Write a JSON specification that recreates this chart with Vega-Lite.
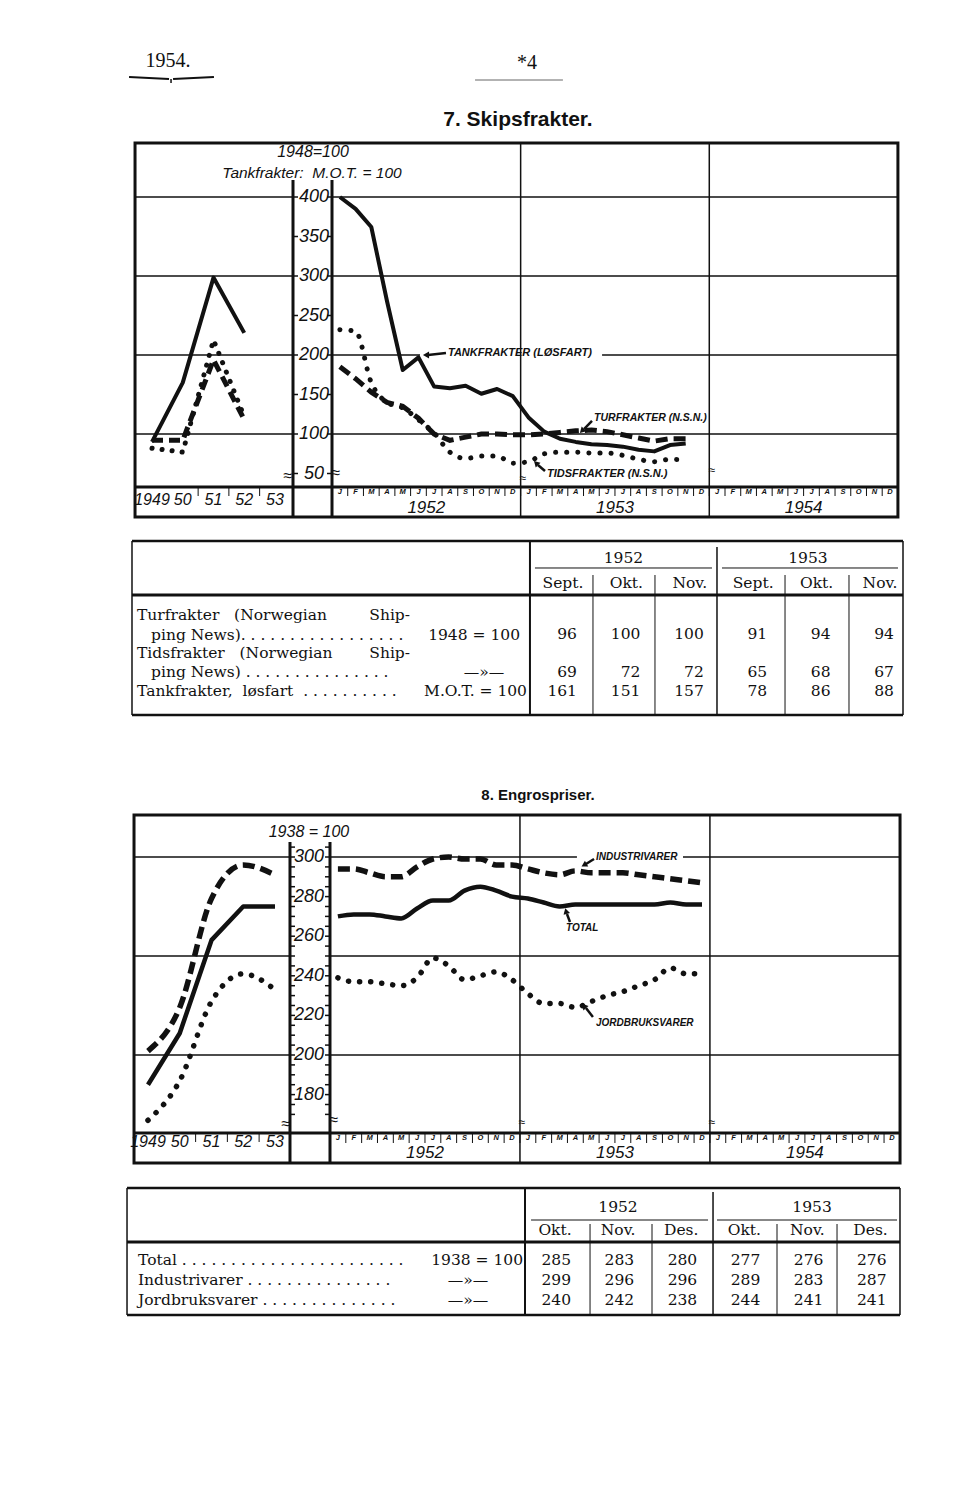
{
"$schema": "https://vega.github.io/schema/vega-lite/v6.json",
"padding": 0,
"spacing": 0,
"bounds": "flush",
"background": "white",
"data": {"values": [{}]},
"config": {"view": {"stroke": null}, "text": {"font": "Liberation Sans", "baseline": "middle", "color": "#111"}, "rule": {"color": "#111"}, "line": {"color": "#111"}, "point": {"color": "#111", "opacity": 1}},
"datasets": {
"ship": [
{"m":1,"tank":400,"tur":185,"tids":232},{"m":2,"tank":385,"tur":170,"tids":230},{"m":3,"tank":362,"tur":153,"tids":165},{"m":4,"tank":268,"tur":140,"tids":140},{"m":5,"tank":181,"tur":135,"tids":133},{"m":6,"tank":197,"tur":120,"tids":118},{"m":7,"tank":160,"tur":100,"tids":101},{"m":8,"tank":158,"tur":92,"tids":77},{"m":9,"tank":161,"tur":96,"tids":69},{"m":10,"tank":151,"tur":100,"tids":72},{"m":11,"tank":157,"tur":100,"tids":72},{"m":12,"tank":148,"tur":99,"tids":63},{"m":13,"tank":121,"tur":99,"tids":65},{"m":14,"tank":103,"tur":100,"tids":75},{"m":15,"tank":94,"tur":102,"tids":77},{"m":16,"tank":90,"tur":104,"tids":77},{"m":17,"tank":87,"tur":105,"tids":76},{"m":18,"tank":86,"tur":103,"tids":76},{"m":19,"tank":84,"tur":99,"tids":73},{"m":20,"tank":80,"tur":95,"tids":68},{"m":21,"tank":78,"tur":91,"tids":65},{"m":22,"tank":86,"tur":94,"tids":68},{"m":23,"tank":88,"tur":94,"tids":67}],
"shipA": [{"year":1949,"tank":90,"tur":92,"tids":82},{"year":1950,"tank":165,"tur":92,"tids":77},{"year":1951,"tank":298,"tur":194,"tids":219},{"year":1952,"tank":228,"tur":118,"tids":122}],
"prices": [
{"m":1,"total":270,"ind":294,"jord":239},{"m":2,"total":271,"ind":294,"jord":237},{"m":3,"total":271,"ind":292,"jord":237},{"m":4,"total":270,"ind":290,"jord":236},{"m":5,"total":269,"ind":290,"jord":235},{"m":6,"total":274,"ind":295,"jord":239},{"m":7,"total":278,"ind":299,"jord":249},{"m":8,"total":278,"ind":300,"jord":245},{"m":9,"total":283,"ind":299,"jord":238},{"m":10,"total":285,"ind":299,"jord":240},{"m":11,"total":283,"ind":296,"jord":242},{"m":12,"total":280,"ind":296,"jord":238},{"m":13,"total":279,"ind":294,"jord":231},{"m":14,"total":277,"ind":292,"jord":226},{"m":15,"total":275,"ind":291,"jord":226},{"m":16,"total":276,"ind":293,"jord":224},{"m":17,"total":276,"ind":292,"jord":227},{"m":18,"total":276,"ind":292,"jord":230},{"m":19,"total":276,"ind":292,"jord":232},{"m":20,"total":276,"ind":291,"jord":235},{"m":21,"total":276,"ind":290,"jord":238},{"m":22,"total":277,"ind":289,"jord":244},{"m":23,"total":276,"ind":288,"jord":241},{"m":24,"total":276,"ind":287,"jord":241}],
"pricesA": [{"year":1949,"total":185,"ind":202,"jord":167},{"year":1950,"total":211,"ind":224,"jord":187},{"year":1951,"total":258,"ind":279,"jord":227},{"year":1952,"total":275,"ind":296,"jord":241},{"year":1953,"total":275,"ind":291,"jord":233}],
"months": [{"m":1,"l":"J"},{"m":2,"l":"F"},{"m":3,"l":"M"},{"m":4,"l":"A"},{"m":5,"l":"M"},{"m":6,"l":"J"},{"m":7,"l":"J"},{"m":8,"l":"A"},{"m":9,"l":"S"},{"m":10,"l":"O"},{"m":11,"l":"N"},{"m":12,"l":"D"},{"m":13,"l":"J"},{"m":14,"l":"F"},{"m":15,"l":"M"},{"m":16,"l":"A"},{"m":17,"l":"M"},{"m":18,"l":"J"},{"m":19,"l":"J"},{"m":20,"l":"A"},{"m":21,"l":"S"},{"m":22,"l":"O"},{"m":23,"l":"N"},{"m":24,"l":"D"},{"m":25,"l":"J"},{"m":26,"l":"F"},{"m":27,"l":"M"},{"m":28,"l":"A"},{"m":29,"l":"M"},{"m":30,"l":"J"},{"m":31,"l":"J"},{"m":32,"l":"A"},{"m":33,"l":"S"},{"m":34,"l":"O"},{"m":35,"l":"N"},{"m":36,"l":"D"}],
"years": [{"m":6.5,"label":"1952"},{"m":18.5,"label":"1953"},{"m":30.5,"label":"1954"}],
"yearsA": [{"year":1949,"label":"1949"},{"year":1950,"label":"50"},{"year":1951,"label":"51"},{"year":1952,"label":"52"},{"year":1953,"label":"53"}],
"yearTicks": [{"year":1950.5},{"year":1951.5},{"year":1952.5}],
"t1": [
{"series":"Turfrakter","line":2,"col":1,"value":"96"},{"series":"Turfrakter","line":2,"col":2,"value":"100"},{"series":"Turfrakter","line":2,"col":3,"value":"100"},{"series":"Turfrakter","line":2,"col":4,"value":"91"},{"series":"Turfrakter","line":2,"col":5,"value":"94"},{"series":"Turfrakter","line":2,"col":6,"value":"94"},
{"series":"Tidsfrakter","line":4,"col":1,"value":"69"},{"series":"Tidsfrakter","line":4,"col":2,"value":"72"},{"series":"Tidsfrakter","line":4,"col":3,"value":"72"},{"series":"Tidsfrakter","line":4,"col":4,"value":"65"},{"series":"Tidsfrakter","line":4,"col":5,"value":"68"},{"series":"Tidsfrakter","line":4,"col":6,"value":"67"},
{"series":"Tankfrakter","line":5,"col":1,"value":"161"},{"series":"Tankfrakter","line":5,"col":2,"value":"151"},{"series":"Tankfrakter","line":5,"col":3,"value":"157"},{"series":"Tankfrakter","line":5,"col":4,"value":"78"},{"series":"Tankfrakter","line":5,"col":5,"value":"86"},{"series":"Tankfrakter","line":5,"col":6,"value":"88"}],
"t1head": [{"col":1,"t":"Sept."},{"col":2,"t":"Okt."},{"col":3,"t":"Nov."},{"col":4,"t":"Sept."},{"col":5,"t":"Okt."},{"col":6,"t":"Nov."}],
"t2": [
{"series":"Total","line":1,"col":1,"value":"285"},{"series":"Total","line":1,"col":2,"value":"283"},{"series":"Total","line":1,"col":3,"value":"280"},{"series":"Total","line":1,"col":4,"value":"277"},{"series":"Total","line":1,"col":5,"value":"276"},{"series":"Total","line":1,"col":6,"value":"276"},
{"series":"Industrivarer","line":2,"col":1,"value":"299"},{"series":"Industrivarer","line":2,"col":2,"value":"296"},{"series":"Industrivarer","line":2,"col":3,"value":"296"},{"series":"Industrivarer","line":2,"col":4,"value":"289"},{"series":"Industrivarer","line":2,"col":5,"value":"283"},{"series":"Industrivarer","line":2,"col":6,"value":"287"},
{"series":"Jordbruksvarer","line":3,"col":1,"value":"240"},{"series":"Jordbruksvarer","line":3,"col":2,"value":"242"},{"series":"Jordbruksvarer","line":3,"col":3,"value":"238"},{"series":"Jordbruksvarer","line":3,"col":4,"value":"244"},{"series":"Jordbruksvarer","line":3,"col":5,"value":"241"},{"series":"Jordbruksvarer","line":3,"col":6,"value":"241"}],
"t2head": [{"col":1,"t":"Okt."},{"col":2,"t":"Nov."},{"col":3,"t":"Des."},{"col":4,"t":"Okt."},{"col":5,"t":"Nov."},{"col":6,"t":"Des."}]
},
"vconcat": [
{
"width": 960, "height": 525,
"resolve": {"scale": {"x": "independent"}},
"layer": [
{"mark":{"type":"rect","fillOpacity":0,"stroke":"#111","strokeWidth":3},"encoding":{"x":{"datum":-12.03,"scale":{"domain":[-20.62,40.449],"nice":false,"zero":false},"axis":null},"x2":{"datum":36.5},"y":{"datum":468.35,"scale":{"domain":[-15.19,649.37],"nice":false,"zero":false},"axis":null},"y2":{"datum":-5.06}}},
{"data":{"values":[{"v":400},{"v":300},{"v":200},{"v":100}]},"mark":{"type":"rule","strokeWidth":1.3},"encoding":{"x":{"datum":-12.03,"scale":{"domain":[-20.62,40.449],"nice":false,"zero":false},"axis":null},"x2":{"datum":-1.98},"y":{"field":"v","type":"quantitative","scale":{"domain":[-15.19,649.37],"nice":false,"zero":false},"axis":null}}},
{"data":{"values":[{"v":400},{"v":300},{"v":100}]},"mark":{"type":"rule","strokeWidth":1.3},"encoding":{"x":{"datum":0.5,"scale":{"domain":[-20.62,40.449],"nice":false,"zero":false},"axis":null},"x2":{"datum":36.5},"y":{"field":"v","type":"quantitative","scale":{"domain":[-15.19,649.37],"nice":false,"zero":false},"axis":null}}},
{"mark":{"type":"rule","strokeWidth":1.3},"encoding":{"x":{"datum":0.5,"scale":{"domain":[-20.62,40.449],"nice":false,"zero":false},"axis":null},"x2":{"datum":6.1},"y":{"datum":200,"scale":{"domain":[-15.19,649.37],"nice":false,"zero":false},"axis":null}}},
{"mark":{"type":"rule","strokeWidth":1.3},"encoding":{"x":{"datum":17.68,"scale":{"domain":[-20.62,40.449],"nice":false,"zero":false},"axis":null},"x2":{"datum":36.5},"y":{"datum":200,"scale":{"domain":[-15.19,649.37],"nice":false,"zero":false},"axis":null}}},
{"mark":{"type":"rule","strokeWidth":3},"encoding":{"x":{"datum":-12.03,"scale":{"domain":[-20.62,40.449],"nice":false,"zero":false},"axis":null},"x2":{"datum":36.5},"y":{"datum":32.91,"scale":{"domain":[-15.19,649.37],"nice":false,"zero":false},"axis":null}}},
{"mark":{"type":"rule","strokeWidth":3},"encoding":{"x":{"datum":-1.981,"scale":{"domain":[-20.62,40.449],"nice":false,"zero":false},"axis":null},"y":{"datum":421.5,"scale":{"domain":[-15.19,649.37],"nice":false,"zero":false},"axis":null},"y2":{"datum":-5.06}}},
{"mark":{"type":"rule","strokeWidth":3},"encoding":{"x":{"datum":0.5,"scale":{"domain":[-20.62,40.449],"nice":false,"zero":false},"axis":null},"y":{"datum":421.5,"scale":{"domain":[-15.19,649.37],"nice":false,"zero":false},"axis":null},"y2":{"datum":-5.06}}},
{"data":{"values":[{"m":12.5},{"m":24.5}]},"mark":{"type":"rule","strokeWidth":1.5},"encoding":{"x":{"field":"m","type":"quantitative","scale":{"domain":[-20.62,40.449],"nice":false,"zero":false},"axis":null},"y":{"datum":468.35,"scale":{"domain":[-15.19,649.37],"nice":false,"zero":false},"axis":null},"y2":{"datum":-5.06}}},
{"data":{"values":[{"v":400},{"v":350},{"v":300},{"v":250},{"v":200},{"v":150},{"v":100},{"v":50}]},"mark":{"type":"text","fontSize":18,"fontStyle":"italic"},"encoding":{"x":{"datum":-0.645,"scale":{"domain":[-20.62,40.449],"nice":false,"zero":false},"axis":null},"y":{"field":"v","type":"quantitative","scale":{"domain":[-15.19,649.37],"nice":false,"zero":false},"axis":null},"text":{"field":"v","type":"nominal"}}},
{"data":{"values":[{"v":400},{"v":350},{"v":300},{"v":250},{"v":200},{"v":150},{"v":100},{"v":50}]},"mark":{"type":"rule","strokeWidth":1.5},"encoding":{"x":{"datum":-1.981,"scale":{"domain":[-20.62,40.449],"nice":false,"zero":false},"axis":null},"x2":{"datum":-1.663},"y":{"field":"v","type":"quantitative","scale":{"domain":[-15.19,649.37],"nice":false,"zero":false},"axis":null}}},
{"data":{"values":[{"v":400},{"v":350},{"v":300},{"v":250},{"v":200},{"v":150},{"v":100},{"v":50}]},"mark":{"type":"rule","strokeWidth":1.5},"encoding":{"x":{"datum":0.182,"scale":{"domain":[-20.62,40.449],"nice":false,"zero":false},"axis":null},"x2":{"datum":0.5},"y":{"field":"v","type":"quantitative","scale":{"domain":[-15.19,649.37],"nice":false,"zero":false},"axis":null}}},
{"mark":{"type":"text","fontSize":16},"encoding":{"x":{"datum":-2.3,"scale":{"domain":[-20.62,40.449],"nice":false,"zero":false},"axis":null},"y":{"datum":46.8,"scale":{"domain":[-15.19,649.37],"nice":false,"zero":false},"axis":null},"text":{"value":"≈"}}},
{"mark":{"type":"text","fontSize":16},"encoding":{"x":{"datum":0.75,"scale":{"domain":[-20.62,40.449],"nice":false,"zero":false},"axis":null},"y":{"datum":50.6,"scale":{"domain":[-15.19,649.37],"nice":false,"zero":false},"axis":null},"text":{"value":"≈"}}},
{"mark":{"type":"text","fontSize":12},"encoding":{"x":{"datum":12.65,"scale":{"domain":[-20.62,40.449],"nice":false,"zero":false},"axis":null},"y":{"datum":44.3,"scale":{"domain":[-15.19,649.37],"nice":false,"zero":false},"axis":null},"text":{"value":"≈"}}},
{"mark":{"type":"text","fontSize":12},"encoding":{"x":{"datum":24.67,"scale":{"domain":[-20.62,40.449],"nice":false,"zero":false},"axis":null},"y":{"datum":54.4,"scale":{"domain":[-15.19,649.37],"nice":false,"zero":false},"axis":null},"text":{"value":"≈"}}},
{"data":{"name":"months"},"mark":{"type":"rule","strokeWidth":1,"xOffset":7.86},"encoding":{"x":{"field":"m","type":"quantitative","scale":{"domain":[-20.62,40.449],"nice":false,"zero":false},"axis":null},"y":{"datum":32.91,"scale":{"domain":[-15.19,649.37],"nice":false,"zero":false},"axis":null},"y2":{"datum":21.5}}},
{"data":{"name":"months"},"mark":{"type":"text","fontSize":7.5,"fontStyle":"italic","fontWeight":"bold"},"encoding":{"x":{"field":"m","type":"quantitative","scale":{"domain":[-20.62,40.449],"nice":false,"zero":false},"axis":null},"y":{"datum":26.6,"scale":{"domain":[-15.19,649.37],"nice":false,"zero":false},"axis":null},"text":{"field":"l"}}},
{"data":{"name":"years"},"mark":{"type":"text","fontSize":17,"fontStyle":"italic"},"encoding":{"x":{"field":"m","type":"quantitative","scale":{"domain":[-20.62,40.449],"nice":false,"zero":false},"axis":null},"y":{"datum":6.3,"scale":{"domain":[-15.19,649.37],"nice":false,"zero":false},"axis":null},"text":{"field":"label"}}},
{"data":{"name":"yearsA"},"mark":{"type":"text","fontSize":16,"fontStyle":"italic"},"encoding":{"x":{"field":"year","type":"quantitative","scale":{"domain":[1944.057,1975.276],"nice":false,"zero":false},"axis":null},"y":{"datum":16.5,"scale":{"domain":[-15.19,649.37],"nice":false,"zero":false},"axis":null},"text":{"field":"label"}}},
{"data":{"name":"yearTicks"},"mark":{"type":"rule","strokeWidth":1},"encoding":{"x":{"field":"year","type":"quantitative","scale":{"domain":[1944.057,1975.276],"nice":false,"zero":false},"axis":null},"y":{"datum":32.91,"scale":{"domain":[-15.19,649.37],"nice":false,"zero":false},"axis":null},"y2":{"datum":21.5}}},
{"data":{"name":"shipA"},"mark":{"type":"line","strokeWidth":4,"strokeJoin":"round"},"encoding":{"x":{"field":"year","type":"quantitative","scale":{"domain":[1944.057,1975.276],"nice":false,"zero":false},"axis":null},"y":{"field":"tank","type":"quantitative","scale":{"domain":[-15.19,649.37],"nice":false,"zero":false},"axis":null}}},
{"data":{"name":"shipA"},"mark":{"type":"line","strokeWidth":5,"strokeDash":[11,6]},"encoding":{"x":{"field":"year","type":"quantitative","scale":{"domain":[1944.057,1975.276],"nice":false,"zero":false},"axis":null},"y":{"field":"tur","type":"quantitative","scale":{"domain":[-15.19,649.37],"nice":false,"zero":false},"axis":null}}},
{"data":{"name":"shipA"},"mark":{"type":"line","strokeWidth":5,"strokeDash":[0.1,10],"strokeCap":"round"},"encoding":{"x":{"field":"year","type":"quantitative","scale":{"domain":[1944.057,1975.276],"nice":false,"zero":false},"axis":null},"y":{"field":"tids","type":"quantitative","scale":{"domain":[-15.19,649.37],"nice":false,"zero":false},"axis":null}}},
{"data":{"name":"ship"},"mark":{"type":"line","strokeWidth":4,"strokeJoin":"round"},"encoding":{"x":{"field":"m","type":"quantitative","scale":{"domain":[-20.62,40.449],"nice":false,"zero":false},"axis":null},"y":{"field":"tank","type":"quantitative","scale":{"domain":[-15.19,649.37],"nice":false,"zero":false},"axis":null}}},
{"data":{"name":"ship"},"mark":{"type":"line","strokeWidth":5,"strokeDash":[12,6]},"encoding":{"x":{"field":"m","type":"quantitative","scale":{"domain":[-20.62,40.449],"nice":false,"zero":false},"axis":null},"y":{"field":"tur","type":"quantitative","scale":{"domain":[-15.19,649.37],"nice":false,"zero":false},"axis":null}}},
{"data":{"name":"ship"},"mark":{"type":"line","strokeWidth":5,"strokeDash":[0.1,11],"strokeCap":"round","interpolate":"monotone"},"encoding":{"x":{"field":"m","type":"quantitative","scale":{"domain":[-20.62,40.449],"nice":false,"zero":false},"axis":null},"y":{"field":"tids","type":"quantitative","scale":{"domain":[-15.19,649.37],"nice":false,"zero":false},"axis":null}}},
{"mark":{"type":"text","fontSize":11,"fontStyle":"italic","fontWeight":"bold","align":"left"},"encoding":{"x":{"datum":7.88,"scale":{"domain":[-20.62,40.449],"nice":false,"zero":false},"axis":null},"y":{"datum":202.5,"scale":{"domain":[-15.19,649.37],"nice":false,"zero":false},"axis":null},"text":{"value":"TANKFRAKTER (LØSFART)"}}},
{"mark":{"type":"rule","strokeWidth":2.5},"encoding":{"x":{"datum":7.75,"scale":{"domain":[-20.62,40.449],"nice":false,"zero":false},"axis":null},"x2":{"datum":6.61},"y":{"datum":202.5,"scale":{"domain":[-15.19,649.37],"nice":false,"zero":false},"axis":null},"y2":{"datum":200}}},
{"mark":{"type":"point","shape":"triangle-left","filled":true,"size":50},"encoding":{"x":{"datum":6.48,"scale":{"domain":[-20.62,40.449],"nice":false,"zero":false},"axis":null},"y":{"datum":200,"scale":{"domain":[-15.19,649.37],"nice":false,"zero":false},"axis":null}}},
{"mark":{"type":"text","fontSize":10.5,"fontStyle":"italic","fontWeight":"bold","align":"left"},"encoding":{"x":{"datum":17.17,"scale":{"domain":[-20.62,40.449],"nice":false,"zero":false},"axis":null},"y":{"datum":120.25,"scale":{"domain":[-15.19,649.37],"nice":false,"zero":false},"axis":null},"text":{"value":"TURFRAKTER (N.S.N.)"}}},
{"mark":{"type":"rule","strokeWidth":2.5},"encoding":{"x":{"datum":17.04,"scale":{"domain":[-20.62,40.449],"nice":false,"zero":false},"axis":null},"x2":{"datum":16.53},"y":{"datum":116.5,"scale":{"domain":[-15.19,649.37],"nice":false,"zero":false},"axis":null},"y2":{"datum":106.3}}},
{"mark":{"type":"point","shape":"triangle-up","filled":true,"size":45,"angle":225},"encoding":{"x":{"datum":16.4,"scale":{"domain":[-20.62,40.449],"nice":false,"zero":false},"axis":null},"y":{"datum":103.8,"scale":{"domain":[-15.19,649.37],"nice":false,"zero":false},"axis":null}}},
{"mark":{"type":"text","fontSize":11,"fontStyle":"italic","fontWeight":"bold","align":"left"},"encoding":{"x":{"datum":14.18,"scale":{"domain":[-20.62,40.449],"nice":false,"zero":false},"axis":null},"y":{"datum":49.4,"scale":{"domain":[-15.19,649.37],"nice":false,"zero":false},"axis":null},"text":{"value":"TIDSFRAKTER (N.S.N.)"}}},
{"mark":{"type":"rule","strokeWidth":2.5},"encoding":{"x":{"datum":14.05,"scale":{"domain":[-20.62,40.449],"nice":false,"zero":false},"axis":null},"x2":{"datum":13.6},"y":{"datum":53.2,"scale":{"domain":[-15.19,649.37],"nice":false,"zero":false},"axis":null},"y2":{"datum":60.8}}},
{"mark":{"type":"point","shape":"triangle-up","filled":true,"size":45,"angle":315},"encoding":{"x":{"datum":13.48,"scale":{"domain":[-20.62,40.449],"nice":false,"zero":false},"axis":null},"y":{"datum":63.3,"scale":{"domain":[-15.19,649.37],"nice":false,"zero":false},"axis":null}}},
{"mark":{"type":"text","fontSize":16,"fontStyle":"italic"},"encoding":{"x":{"datum":-0.709,"scale":{"domain":[-20.62,40.449],"nice":false,"zero":false},"axis":null},"y":{"datum":456.5,"scale":{"domain":[-15.19,649.37],"nice":false,"zero":false},"axis":null},"text":{"value":"1948=100"}}},
{"mark":{"type":"text","fontSize":15.5,"fontStyle":"italic"},"encoding":{"x":{"datum":-0.772,"scale":{"domain":[-20.62,40.449],"nice":false,"zero":false},"axis":null},"y":{"datum":430.3,"scale":{"domain":[-15.19,649.37],"nice":false,"zero":false},"axis":null},"text":{"value":"Tankfrakter:\u00a0\u00a0M.O.T. = 100"}}},
{"mark":{"type":"text","fontSize":20,"font":"Liberation Serif"},"encoding":{"x":{"datum":-9.93,"scale":{"domain":[-20.62,40.449],"nice":false,"zero":false},"axis":null},"y":{"datum":572.2,"scale":{"domain":[-15.19,649.37],"nice":false,"zero":false},"axis":null},"text":{"value":"1954."}}},
{"mark":{"type":"rule","strokeWidth":2},"encoding":{"x":{"datum":-12.41,"scale":{"domain":[-20.62,40.449],"nice":false,"zero":false},"axis":null},"x2":{"datum":-9.87},"y":{"datum":551.9,"scale":{"domain":[-15.19,649.37],"nice":false,"zero":false},"axis":null},"y2":{"datum":549.4}}},
{"mark":{"type":"rule","strokeWidth":2},"encoding":{"x":{"datum":-9.61,"scale":{"domain":[-20.62,40.449],"nice":false,"zero":false},"axis":null},"x2":{"datum":-7.01},"y":{"datum":549.4,"scale":{"domain":[-15.19,649.37],"nice":false,"zero":false},"axis":null},"y2":{"datum":551.9}}},
{"mark":{"type":"rule","strokeWidth":1.5},"encoding":{"x":{"datum":-9.74,"scale":{"domain":[-20.62,40.449],"nice":false,"zero":false},"axis":null},"y":{"datum":549.4,"scale":{"domain":[-15.19,649.37],"nice":false,"zero":false},"axis":null},"y2":{"datum":544.3}}},
{"mark":{"type":"text","fontSize":20,"font":"Liberation Serif"},"encoding":{"x":{"datum":12.9,"scale":{"domain":[-20.62,40.449],"nice":false,"zero":false},"axis":null},"y":{"datum":569.6,"scale":{"domain":[-15.19,649.37],"nice":false,"zero":false},"axis":null},"text":{"value":"*4"}}},
{"mark":{"type":"rule","strokeWidth":1,"color":"#666"},"encoding":{"x":{"datum":9.6,"scale":{"domain":[-20.62,40.449],"nice":false,"zero":false},"axis":null},"x2":{"datum":15.19},"y":{"datum":548.1,"scale":{"domain":[-15.19,649.37],"nice":false,"zero":false},"axis":null}}},
{"mark":{"type":"text","fontSize":21,"fontWeight":"bold"},"encoding":{"x":{"datum":12.33,"scale":{"domain":[-20.62,40.449],"nice":false,"zero":false},"axis":null},"y":{"datum":497.5,"scale":{"domain":[-15.19,649.37],"nice":false,"zero":false},"axis":null},"text":{"value":"7. Skipsfrakter."}}}
]
},
{
"width": 960, "height": 235,
"layer": [
{"mark":{"type":"rule","strokeWidth":2.5},"encoding":{"x":{"datum":-5.798,"scale":{"domain":[-7.88,7.262],"nice":false,"zero":false},"axis":null},"x2":{"datum":6.363},"y":{"datum":-2.895,"scale":{"domain":[-3.737,8.632],"nice":false,"zero":false,"reverse":true},"axis":null}}},
{"mark":{"type":"rule","strokeWidth":3},"encoding":{"x":{"datum":-5.798,"scale":{"domain":[-7.88,7.262],"nice":false,"zero":false},"axis":null},"x2":{"datum":6.363},"y":{"datum":-0.053,"scale":{"domain":[-3.737,8.632],"nice":false,"zero":false,"reverse":true},"axis":null}}},
{"mark":{"type":"rule","strokeWidth":2.5},"encoding":{"x":{"datum":-5.798,"scale":{"domain":[-7.88,7.262],"nice":false,"zero":false},"axis":null},"x2":{"datum":6.363},"y":{"datum":6.263,"scale":{"domain":[-3.737,8.632],"nice":false,"zero":false,"reverse":true},"axis":null}}},
{"mark":{"type":"rule","strokeWidth":1.5},"encoding":{"x":{"datum":-5.798,"scale":{"domain":[-7.88,7.262],"nice":false,"zero":false},"axis":null},"y":{"datum":-2.895,"scale":{"domain":[-3.737,8.632],"nice":false,"zero":false,"reverse":true},"axis":null},"y2":{"datum":6.263}}},
{"mark":{"type":"rule","strokeWidth":1.5},"encoding":{"x":{"datum":6.363,"scale":{"domain":[-7.88,7.262],"nice":false,"zero":false},"axis":null},"y":{"datum":-2.895,"scale":{"domain":[-3.737,8.632],"nice":false,"zero":false,"reverse":true},"axis":null},"y2":{"datum":6.263}}},
{"mark":{"type":"rule","strokeWidth":2},"encoding":{"x":{"datum":0.479,"scale":{"domain":[-7.88,7.262],"nice":false,"zero":false},"axis":null},"y":{"datum":-2.895,"scale":{"domain":[-3.737,8.632],"nice":false,"zero":false,"reverse":true},"axis":null},"y2":{"datum":6.263}}},
{"mark":{"type":"rule","strokeWidth":1.5},"encoding":{"x":{"datum":3.429,"scale":{"domain":[-7.88,7.262],"nice":false,"zero":false},"axis":null},"y":{"datum":-2.579,"scale":{"domain":[-3.737,8.632],"nice":false,"zero":false,"reverse":true},"axis":null},"y2":{"datum":6.263}}},
{"data":{"values":[{"c":1.473},{"c":2.451},{"c":4.502},{"c":5.511}]},"mark":{"type":"rule","strokeWidth":1},"encoding":{"x":{"field":"c","type":"quantitative","scale":{"domain":[-7.88,7.262],"nice":false,"zero":false},"axis":null},"y":{"datum":-1.105,"scale":{"domain":[-3.737,8.632],"nice":false,"zero":false,"reverse":true},"axis":null},"y2":{"datum":6.263}}},
{"mark":{"type":"rule","strokeWidth":1},"encoding":{"x":{"datum":0.558,"scale":{"domain":[-7.88,7.262],"nice":false,"zero":false},"axis":null},"x2":{"datum":3.35},"y":{"datum":-1.474,"scale":{"domain":[-3.737,8.632],"nice":false,"zero":false,"reverse":true},"axis":null}}},
{"mark":{"type":"rule","strokeWidth":1},"encoding":{"x":{"datum":3.508,"scale":{"domain":[-7.88,7.262],"nice":false,"zero":false},"axis":null},"x2":{"datum":6.284},"y":{"datum":-1.474,"scale":{"domain":[-3.737,8.632],"nice":false,"zero":false,"reverse":true},"axis":null}}},
{"mark":{"type":"text","fontSize":15.5,"font":"DejaVu Serif"},"encoding":{"x":{"datum":1.954,"scale":{"domain":[-7.88,7.262],"nice":false,"zero":false},"axis":null},"y":{"datum":-2,"scale":{"domain":[-3.737,8.632],"nice":false,"zero":false,"reverse":true},"axis":null},"text":{"value":"1952"}}},
{"mark":{"type":"text","fontSize":15.5,"font":"DejaVu Serif"},"encoding":{"x":{"datum":4.864,"scale":{"domain":[-7.88,7.262],"nice":false,"zero":false},"axis":null},"y":{"datum":-2,"scale":{"domain":[-3.737,8.632],"nice":false,"zero":false,"reverse":true},"axis":null},"text":{"value":"1953"}}},
{"data":{"name":"t1head"},"mark":{"type":"text","fontSize":15.5,"font":"DejaVu Serif"},"encoding":{"x":{"field":"col","type":"quantitative","scale":{"domain":[-7.88,7.262],"nice":false,"zero":false},"axis":null},"y":{"datum":-0.684,"scale":{"domain":[-3.737,8.632],"nice":false,"zero":false,"reverse":true},"axis":null},"text":{"field":"t"}}},
{"data":{"name":"t1"},"mark":{"type":"text","fontSize":15.5,"font":"DejaVu Serif","align":"right","dx":14},"encoding":{"x":{"field":"col","type":"quantitative","scale":{"domain":[-7.88,7.262],"nice":false,"zero":false},"axis":null},"y":{"field":"line","type":"quantitative","scale":{"domain":[-3.737,8.632],"nice":false,"zero":false,"reverse":true},"axis":null},"text":{"field":"value"}}},
{"mark":{"type":"text","fontSize":15.5,"font":"DejaVu Serif","align":"left"},"encoding":{"x":{"datum":-5.719,"scale":{"domain":[-7.88,7.262],"nice":false,"zero":false},"axis":null},"y":{"datum":1,"scale":{"domain":[-3.737,8.632],"nice":false,"zero":false,"reverse":true},"axis":null},"text":{"value":"Turfrakter\u00a0\u00a0\u00a0(Norwegian"}}},
{"mark":{"type":"text","fontSize":15.5,"font":"DejaVu Serif","align":"right"},"encoding":{"x":{"datum":-1.413,"scale":{"domain":[-7.88,7.262],"nice":false,"zero":false},"axis":null},"y":{"datum":1,"scale":{"domain":[-3.737,8.632],"nice":false,"zero":false,"reverse":true},"axis":null},"text":{"value":"Ship-"}}},
{"mark":{"type":"text","fontSize":15.5,"font":"DejaVu Serif","align":"left"},"encoding":{"x":{"datum":-5.498,"scale":{"domain":[-7.88,7.262],"nice":false,"zero":false},"axis":null},"y":{"datum":2.05,"scale":{"domain":[-3.737,8.632],"nice":false,"zero":false,"reverse":true},"axis":null},"text":{"value":"ping News). . . . . . . . . . . . . . . . ."}}},
{"mark":{"type":"text","fontSize":15.5,"font":"DejaVu Serif","align":"right"},"encoding":{"x":{"datum":0.322,"scale":{"domain":[-7.88,7.262],"nice":false,"zero":false},"axis":null},"y":{"datum":2.05,"scale":{"domain":[-3.737,8.632],"nice":false,"zero":false,"reverse":true},"axis":null},"text":{"value":"1948 = 100"}}},
{"mark":{"type":"text","fontSize":15.5,"font":"DejaVu Serif","align":"left"},"encoding":{"x":{"datum":-5.719,"scale":{"domain":[-7.88,7.262],"nice":false,"zero":false},"axis":null},"y":{"datum":3,"scale":{"domain":[-3.737,8.632],"nice":false,"zero":false,"reverse":true},"axis":null},"text":{"value":"Tidsfrakter\u00a0\u00a0\u00a0(Norwegian"}}},
{"mark":{"type":"text","fontSize":15.5,"font":"DejaVu Serif","align":"right"},"encoding":{"x":{"datum":-1.413,"scale":{"domain":[-7.88,7.262],"nice":false,"zero":false},"axis":null},"y":{"datum":3,"scale":{"domain":[-3.737,8.632],"nice":false,"zero":false,"reverse":true},"axis":null},"text":{"value":"Ship-"}}},
{"mark":{"type":"text","fontSize":15.5,"font":"DejaVu Serif","align":"left"},"encoding":{"x":{"datum":-5.498,"scale":{"domain":[-7.88,7.262],"nice":false,"zero":false},"axis":null},"y":{"datum":4,"scale":{"domain":[-3.737,8.632],"nice":false,"zero":false,"reverse":true},"axis":null},"text":{"value":"ping News) . . . . . . . . . . . . . . ."}}},
{"mark":{"type":"text","fontSize":15.5,"font":"DejaVu Serif"},"encoding":{"x":{"datum":-0.246,"scale":{"domain":[-7.88,7.262],"nice":false,"zero":false},"axis":null},"y":{"datum":4,"scale":{"domain":[-3.737,8.632],"nice":false,"zero":false,"reverse":true},"axis":null},"text":{"value":"—»—"}}},
{"mark":{"type":"text","fontSize":15.5,"font":"DejaVu Serif","align":"left"},"encoding":{"x":{"datum":-5.719,"scale":{"domain":[-7.88,7.262],"nice":false,"zero":false},"axis":null},"y":{"datum":5,"scale":{"domain":[-3.737,8.632],"nice":false,"zero":false,"reverse":true},"axis":null},"text":{"value":"Tankfrakter,\u00a0\u00a0løsfart\u00a0\u00a0. . . . . . . . . ."}}},
{"mark":{"type":"text","fontSize":15.5,"font":"DejaVu Serif","align":"right"},"encoding":{"x":{"datum":0.432,"scale":{"domain":[-7.88,7.262],"nice":false,"zero":false},"axis":null},"y":{"datum":5,"scale":{"domain":[-3.737,8.632],"nice":false,"zero":false,"reverse":true},"axis":null},"text":{"value":"M.O.T. = 100"}}}
]
},
{
"width": 960, "height": 415,
"resolve": {"scale": {"x": "independent"}},
"layer": [
{"mark":{"type":"rect","fillOpacity":0,"stroke":"#111","strokeWidth":3},"encoding":{"x":{"datum":-11.88,"scale":{"domain":[-20.346,40.298],"nice":false,"zero":false},"axis":null},"x2":{"datum":36.51},"y":{"datum":321.21,"scale":{"domain":[139.394,348.99],"nice":false,"zero":false},"axis":null},"y2":{"datum":145.45}}},
{"data":{"values":[{"v":300},{"v":250},{"v":200}]},"mark":{"type":"rule","strokeWidth":1.3},"encoding":{"x":{"datum":-11.88,"scale":{"domain":[-20.346,40.298],"nice":false,"zero":false},"axis":null},"x2":{"datum":-2.027},"y":{"field":"v","type":"quantitative","scale":{"domain":[139.394,348.99],"nice":false,"zero":false},"axis":null}}},
{"data":{"values":[{"v":250},{"v":200}]},"mark":{"type":"rule","strokeWidth":1.3},"encoding":{"x":{"datum":0.5,"scale":{"domain":[-20.346,40.298],"nice":false,"zero":false},"axis":null},"x2":{"datum":36.51},"y":{"field":"v","type":"quantitative","scale":{"domain":[139.394,348.99],"nice":false,"zero":false},"axis":null}}},
{"mark":{"type":"rule","strokeWidth":1.3},"encoding":{"x":{"datum":0.5,"scale":{"domain":[-20.346,40.298],"nice":false,"zero":false},"axis":null},"x2":{"datum":16.1},"y":{"datum":300,"scale":{"domain":[139.394,348.99],"nice":false,"zero":false},"axis":null}}},
{"mark":{"type":"rule","strokeWidth":1.3},"encoding":{"x":{"datum":22.8,"scale":{"domain":[-20.346,40.298],"nice":false,"zero":false},"axis":null},"x2":{"datum":36.51},"y":{"datum":300,"scale":{"domain":[139.394,348.99],"nice":false,"zero":false},"axis":null}}},
{"mark":{"type":"rule","strokeWidth":3},"encoding":{"x":{"datum":-11.88,"scale":{"domain":[-20.346,40.298],"nice":false,"zero":false},"axis":null},"x2":{"datum":36.51},"y":{"datum":160.61,"scale":{"domain":[139.394,348.99],"nice":false,"zero":false},"axis":null}}},
{"mark":{"type":"rule","strokeWidth":3},"encoding":{"x":{"datum":-2.027,"scale":{"domain":[-20.346,40.298],"nice":false,"zero":false},"axis":null},"y":{"datum":307.58,"scale":{"domain":[139.394,348.99],"nice":false,"zero":false},"axis":null},"y2":{"datum":145.45}}},
{"mark":{"type":"rule","strokeWidth":3},"encoding":{"x":{"datum":0.5,"scale":{"domain":[-20.346,40.298],"nice":false,"zero":false},"axis":null},"y":{"datum":307.58,"scale":{"domain":[139.394,348.99],"nice":false,"zero":false},"axis":null},"y2":{"datum":145.45}}},
{"data":{"values":[{"m":12.5},{"m":24.5}]},"mark":{"type":"rule","strokeWidth":1.5},"encoding":{"x":{"field":"m","type":"quantitative","scale":{"domain":[-20.346,40.298],"nice":false,"zero":false},"axis":null},"y":{"datum":321.21,"scale":{"domain":[139.394,348.99],"nice":false,"zero":false},"axis":null},"y2":{"datum":145.45}}},
{"data":{"values":[{"v":300},{"v":280},{"v":260},{"v":240},{"v":220},{"v":200},{"v":180}]},"mark":{"type":"text","fontSize":18,"fontStyle":"italic"},"encoding":{"x":{"datum":-0.827,"scale":{"domain":[-20.346,40.298],"nice":false,"zero":false},"axis":null},"y":{"field":"v","type":"quantitative","scale":{"domain":[139.394,348.99],"nice":false,"zero":false},"axis":null},"text":{"field":"v","type":"nominal"}}},
{"data":{"values":[{"v":170},{"v":175},{"v":180},{"v":185},{"v":190},{"v":195},{"v":200},{"v":205},{"v":210},{"v":215},{"v":220},{"v":225},{"v":230},{"v":235},{"v":240},{"v":245},{"v":250},{"v":255},{"v":260},{"v":265},{"v":270},{"v":275},{"v":280},{"v":285},{"v":290},{"v":295},{"v":300},{"v":305}]},"mark":{"type":"rule","strokeWidth":1.5},"encoding":{"x":{"datum":-2.027,"scale":{"domain":[-20.346,40.298],"nice":false,"zero":false},"axis":null},"x2":{"datum":-1.711},"y":{"field":"v","type":"quantitative","scale":{"domain":[139.394,348.99],"nice":false,"zero":false},"axis":null}}},
{"data":{"values":[{"v":170},{"v":175},{"v":180},{"v":185},{"v":190},{"v":195},{"v":200},{"v":205},{"v":210},{"v":215},{"v":220},{"v":225},{"v":230},{"v":235},{"v":240},{"v":245},{"v":250},{"v":255},{"v":260},{"v":265},{"v":270},{"v":275},{"v":280},{"v":285},{"v":290},{"v":295},{"v":300},{"v":305}]},"mark":{"type":"rule","strokeWidth":1.5},"encoding":{"x":{"datum":0.184,"scale":{"domain":[-20.346,40.298],"nice":false,"zero":false},"axis":null},"x2":{"datum":0.5},"y":{"field":"v","type":"quantitative","scale":{"domain":[139.394,348.99],"nice":false,"zero":false},"axis":null}}},
{"mark":{"type":"text","fontSize":16},"encoding":{"x":{"datum":-2.28,"scale":{"domain":[-20.346,40.298],"nice":false,"zero":false},"axis":null},"y":{"datum":165.15,"scale":{"domain":[139.394,348.99],"nice":false,"zero":false},"axis":null},"text":{"value":"≈"}}},
{"mark":{"type":"text","fontSize":16},"encoding":{"x":{"datum":0.75,"scale":{"domain":[-20.346,40.298],"nice":false,"zero":false},"axis":null},"y":{"datum":167.17,"scale":{"domain":[139.394,348.99],"nice":false,"zero":false},"axis":null},"text":{"value":"≈"}}},
{"mark":{"type":"text","fontSize":12},"encoding":{"x":{"datum":12.63,"scale":{"domain":[-20.346,40.298],"nice":false,"zero":false},"axis":null},"y":{"datum":166.16,"scale":{"domain":[139.394,348.99],"nice":false,"zero":false},"axis":null},"text":{"value":"≈"}}},
{"mark":{"type":"text","fontSize":12},"encoding":{"x":{"datum":24.63,"scale":{"domain":[-20.346,40.298],"nice":false,"zero":false},"axis":null},"y":{"datum":166.16,"scale":{"domain":[139.394,348.99],"nice":false,"zero":false},"axis":null},"text":{"value":"≈"}}},
{"data":{"name":"months"},"mark":{"type":"rule","strokeWidth":1,"xOffset":7.915},"encoding":{"x":{"field":"m","type":"quantitative","scale":{"domain":[-20.346,40.298],"nice":false,"zero":false},"axis":null},"y":{"datum":160.61,"scale":{"domain":[139.394,348.99],"nice":false,"zero":false},"axis":null},"y2":{"datum":155.55}}},
{"data":{"name":"months"},"mark":{"type":"text","fontSize":7.5,"fontStyle":"italic","fontWeight":"bold"},"encoding":{"x":{"field":"m","type":"quantitative","scale":{"domain":[-20.346,40.298],"nice":false,"zero":false},"axis":null},"y":{"datum":158.1,"scale":{"domain":[139.394,348.99],"nice":false,"zero":false},"axis":null},"text":{"field":"l"}}},
{"data":{"name":"years"},"mark":{"type":"text","fontSize":17,"fontStyle":"italic"},"encoding":{"x":{"field":"m","type":"quantitative","scale":{"domain":[-20.346,40.298],"nice":false,"zero":false},"axis":null},"y":{"datum":150.5,"scale":{"domain":[139.394,348.99],"nice":false,"zero":false},"axis":null},"text":{"field":"label"}}},
{"data":{"name":"yearsA"},"mark":{"type":"text","fontSize":16,"fontStyle":"italic"},"encoding":{"x":{"field":"year","type":"quantitative","scale":{"domain":[1944.339,1974.575],"nice":false,"zero":false},"axis":null},"y":{"datum":156.0,"scale":{"domain":[139.394,348.99],"nice":false,"zero":false},"axis":null},"text":{"field":"label"}}},
{"data":{"name":"yearTicks"},"mark":{"type":"rule","strokeWidth":1},"encoding":{"x":{"field":"year","type":"quantitative","scale":{"domain":[1944.339,1974.575],"nice":false,"zero":false},"axis":null},"y":{"datum":160.61,"scale":{"domain":[139.394,348.99],"nice":false,"zero":false},"axis":null},"y2":{"datum":156.06}}},
{"data":{"name":"pricesA"},"mark":{"type":"line","strokeWidth":4.5,"strokeJoin":"round"},"encoding":{"x":{"field":"year","type":"quantitative","scale":{"domain":[1944.339,1974.575],"nice":false,"zero":false},"axis":null},"y":{"field":"total","type":"quantitative","scale":{"domain":[139.394,348.99],"nice":false,"zero":false},"axis":null}}},
{"data":{"name":"pricesA"},"mark":{"type":"line","strokeWidth":5.5,"strokeDash":[12,6],"interpolate":"monotone"},"encoding":{"x":{"field":"year","type":"quantitative","scale":{"domain":[1944.339,1974.575],"nice":false,"zero":false},"axis":null},"y":{"field":"ind","type":"quantitative","scale":{"domain":[139.394,348.99],"nice":false,"zero":false},"axis":null}}},
{"data":{"name":"pricesA"},"mark":{"type":"line","strokeWidth":5.5,"strokeDash":[0.1,11],"strokeCap":"round","interpolate":"monotone"},"encoding":{"x":{"field":"year","type":"quantitative","scale":{"domain":[1944.339,1974.575],"nice":false,"zero":false},"axis":null},"y":{"field":"jord","type":"quantitative","scale":{"domain":[139.394,348.99],"nice":false,"zero":false},"axis":null}}},
{"data":{"name":"prices"},"mark":{"type":"line","strokeWidth":4.5,"strokeJoin":"round","interpolate":"monotone"},"encoding":{"x":{"field":"m","type":"quantitative","scale":{"domain":[-20.346,40.298],"nice":false,"zero":false},"axis":null},"y":{"field":"total","type":"quantitative","scale":{"domain":[139.394,348.99],"nice":false,"zero":false},"axis":null}}},
{"data":{"name":"prices"},"mark":{"type":"line","strokeWidth":5.5,"strokeDash":[12,6],"interpolate":"monotone"},"encoding":{"x":{"field":"m","type":"quantitative","scale":{"domain":[-20.346,40.298],"nice":false,"zero":false},"axis":null},"y":{"field":"ind","type":"quantitative","scale":{"domain":[139.394,348.99],"nice":false,"zero":false},"axis":null}}},
{"data":{"name":"prices"},"mark":{"type":"line","strokeWidth":5.5,"strokeDash":[0.1,11],"strokeCap":"round","interpolate":"monotone"},"encoding":{"x":{"field":"m","type":"quantitative","scale":{"domain":[-20.346,40.298],"nice":false,"zero":false},"axis":null},"y":{"field":"jord","type":"quantitative","scale":{"domain":[139.394,348.99],"nice":false,"zero":false},"axis":null}}},
{"mark":{"type":"text","fontSize":10,"fontStyle":"italic","fontWeight":"bold","align":"left"},"encoding":{"x":{"datum":17.3,"scale":{"domain":[-20.346,40.298],"nice":false,"zero":false},"axis":null},"y":{"datum":300,"scale":{"domain":[139.394,348.99],"nice":false,"zero":false},"axis":null},"text":{"value":"INDUSTRIVARER"}}},
{"mark":{"type":"rule","strokeWidth":2.5},"encoding":{"x":{"datum":17.18,"scale":{"domain":[-20.346,40.298],"nice":false,"zero":false},"axis":null},"x2":{"datum":16.67},"y":{"datum":299,"scale":{"domain":[139.394,348.99],"nice":false,"zero":false},"axis":null},"y2":{"datum":296.46}}},
{"mark":{"type":"point","shape":"triangle-up","filled":true,"size":45,"angle":240},"encoding":{"x":{"datum":16.55,"scale":{"domain":[-20.346,40.298],"nice":false,"zero":false},"axis":null},"y":{"datum":295.96,"scale":{"domain":[139.394,348.99],"nice":false,"zero":false},"axis":null}}},
{"mark":{"type":"text","fontSize":10,"fontStyle":"italic","fontWeight":"bold","align":"left"},"encoding":{"x":{"datum":15.41,"scale":{"domain":[-20.346,40.298],"nice":false,"zero":false},"axis":null},"y":{"datum":264.14,"scale":{"domain":[139.394,348.99],"nice":false,"zero":false},"axis":null},"text":{"value":"TOTAL"}}},
{"mark":{"type":"rule","strokeWidth":2.5},"encoding":{"x":{"datum":15.66,"scale":{"domain":[-20.346,40.298],"nice":false,"zero":false},"axis":null},"x2":{"datum":15.47},"y":{"datum":267.17,"scale":{"domain":[139.394,348.99],"nice":false,"zero":false},"axis":null},"y2":{"datum":271.21}}},
{"mark":{"type":"point","shape":"triangle-up","filled":true,"size":45,"angle":345},"encoding":{"x":{"datum":15.41,"scale":{"domain":[-20.346,40.298],"nice":false,"zero":false},"axis":null},"y":{"datum":272.73,"scale":{"domain":[139.394,348.99],"nice":false,"zero":false},"axis":null}}},
{"mark":{"type":"text","fontSize":10,"fontStyle":"italic","fontWeight":"bold","align":"left"},"encoding":{"x":{"datum":17.3,"scale":{"domain":[-20.346,40.298],"nice":false,"zero":false},"axis":null},"y":{"datum":216.16,"scale":{"domain":[139.394,348.99],"nice":false,"zero":false},"axis":null},"text":{"value":"JORDBRUKSVARER"}}},
{"mark":{"type":"rule","strokeWidth":2.5},"encoding":{"x":{"datum":17.11,"scale":{"domain":[-20.346,40.298],"nice":false,"zero":false},"axis":null},"x2":{"datum":16.67},"y":{"datum":219.19,"scale":{"domain":[139.394,348.99],"nice":false,"zero":false},"axis":null},"y2":{"datum":223.74}}},
{"mark":{"type":"point","shape":"triangle-up","filled":true,"size":45,"angle":320},"encoding":{"x":{"datum":16.55,"scale":{"domain":[-20.346,40.298],"nice":false,"zero":false},"axis":null},"y":{"datum":224.75,"scale":{"domain":[139.394,348.99],"nice":false,"zero":false},"axis":null}}},
{"mark":{"type":"text","fontSize":16,"fontStyle":"italic"},"encoding":{"x":{"datum":-0.827,"scale":{"domain":[-20.346,40.298],"nice":false,"zero":false},"axis":null},"y":{"datum":312.63,"scale":{"domain":[139.394,348.99],"nice":false,"zero":false},"axis":null},"text":{"value":"1938 = 100"}}},
{"mark":{"type":"text","fontSize":15,"fontWeight":"bold"},"encoding":{"x":{"datum":13.64,"scale":{"domain":[-20.346,40.298],"nice":false,"zero":false},"axis":null},"y":{"datum":331.31,"scale":{"domain":[139.394,348.99],"nice":false,"zero":false},"axis":null},"text":{"value":"8. Engrospriser."}}}
]
},
{
"width": 960, "height": 321,
"layer": [
{"mark":{"type":"rule","strokeWidth":2.5},"encoding":{"x":{"datum":-5.783,"scale":{"domain":[-7.796,7.418],"nice":false,"zero":false},"axis":null},"x2":{"datum":6.467},"y":{"datum":-2.6,"scale":{"domain":[-3.25,12.8],"nice":false,"zero":false,"reverse":true},"axis":null}}},
{"mark":{"type":"rule","strokeWidth":3},"encoding":{"x":{"datum":-5.783,"scale":{"domain":[-7.796,7.418],"nice":false,"zero":false},"axis":null},"x2":{"datum":6.467},"y":{"datum":0.1,"scale":{"domain":[-3.25,12.8],"nice":false,"zero":false,"reverse":true},"axis":null}}},
{"mark":{"type":"rule","strokeWidth":2.5},"encoding":{"x":{"datum":-5.783,"scale":{"domain":[-7.796,7.418],"nice":false,"zero":false},"axis":null},"x2":{"datum":6.467},"y":{"datum":3.75,"scale":{"domain":[-3.25,12.8],"nice":false,"zero":false,"reverse":true},"axis":null}}},
{"mark":{"type":"rule","strokeWidth":1.5},"encoding":{"x":{"datum":-5.783,"scale":{"domain":[-7.796,7.418],"nice":false,"zero":false},"axis":null},"y":{"datum":-2.6,"scale":{"domain":[-3.25,12.8],"nice":false,"zero":false,"reverse":true},"axis":null},"y2":{"datum":3.75}}},
{"mark":{"type":"rule","strokeWidth":1.5},"encoding":{"x":{"datum":6.467,"scale":{"domain":[-7.796,7.418],"nice":false,"zero":false},"axis":null},"y":{"datum":-2.6,"scale":{"domain":[-3.25,12.8],"nice":false,"zero":false,"reverse":true},"axis":null},"y2":{"datum":3.75}}},
{"mark":{"type":"rule","strokeWidth":2},"encoding":{"x":{"datum":0.524,"scale":{"domain":[-7.796,7.418],"nice":false,"zero":false},"axis":null},"y":{"datum":-2.6,"scale":{"domain":[-3.25,12.8],"nice":false,"zero":false,"reverse":true},"axis":null},"y2":{"datum":3.75}}},
{"mark":{"type":"rule","strokeWidth":1.5},"encoding":{"x":{"datum":3.504,"scale":{"domain":[-7.796,7.418],"nice":false,"zero":false},"axis":null},"y":{"datum":-2.4,"scale":{"domain":[-3.25,12.8],"nice":false,"zero":false,"reverse":true},"axis":null},"y2":{"datum":3.75}}},
{"data":{"values":[{"c":1.555},{"c":2.537},{"c":4.518},{"c":5.469}]},"mark":{"type":"rule","strokeWidth":1},"encoding":{"x":{"field":"c","type":"quantitative","scale":{"domain":[-7.796,7.418],"nice":false,"zero":false},"axis":null},"y":{"datum":-0.8,"scale":{"domain":[-3.25,12.8],"nice":false,"zero":false,"reverse":true},"axis":null},"y2":{"datum":3.75}}},
{"mark":{"type":"rule","strokeWidth":1},"encoding":{"x":{"datum":0.62,"scale":{"domain":[-7.796,7.418],"nice":false,"zero":false},"axis":null},"x2":{"datum":3.425},"y":{"datum":-1.0,"scale":{"domain":[-3.25,12.8],"nice":false,"zero":false,"reverse":true},"axis":null}}},
{"mark":{"type":"rule","strokeWidth":1},"encoding":{"x":{"datum":3.567,"scale":{"domain":[-7.796,7.418],"nice":false,"zero":false},"axis":null},"x2":{"datum":6.42},"y":{"datum":-1.0,"scale":{"domain":[-3.25,12.8],"nice":false,"zero":false,"reverse":true},"axis":null}}},
{"mark":{"type":"text","fontSize":15.5,"font":"DejaVu Serif"},"encoding":{"x":{"datum":1.998,"scale":{"domain":[-7.796,7.418],"nice":false,"zero":false},"axis":null},"y":{"datum":-1.65,"scale":{"domain":[-3.25,12.8],"nice":false,"zero":false,"reverse":true},"axis":null},"text":{"value":"1952"}}},
{"mark":{"type":"text","fontSize":15.5,"font":"DejaVu Serif"},"encoding":{"x":{"datum":5.073,"scale":{"domain":[-7.796,7.418],"nice":false,"zero":false},"axis":null},"y":{"datum":-1.65,"scale":{"domain":[-3.25,12.8],"nice":false,"zero":false,"reverse":true},"axis":null},"text":{"value":"1953"}}},
{"data":{"name":"t2head"},"mark":{"type":"text","fontSize":15.5,"font":"DejaVu Serif"},"encoding":{"x":{"field":"col","type":"quantitative","scale":{"domain":[-7.796,7.418],"nice":false,"zero":false},"axis":null},"y":{"datum":-0.5,"scale":{"domain":[-3.25,12.8],"nice":false,"zero":false,"reverse":true},"axis":null},"text":{"field":"t"}}},
{"data":{"name":"t2"},"mark":{"type":"text","fontSize":15.5,"font":"DejaVu Serif","align":"right","dx":16},"encoding":{"x":{"field":"col","type":"quantitative","scale":{"domain":[-7.796,7.418],"nice":false,"zero":false},"axis":null},"y":{"field":"line","type":"quantitative","scale":{"domain":[-3.25,12.8],"nice":false,"zero":false,"reverse":true},"axis":null},"text":{"field":"value"}}},
{"mark":{"type":"text","fontSize":15.5,"font":"DejaVu Serif","align":"left"},"encoding":{"x":{"datum":-5.609,"scale":{"domain":[-7.796,7.418],"nice":false,"zero":false},"axis":null},"y":{"datum":1,"scale":{"domain":[-3.25,12.8],"nice":false,"zero":false,"reverse":true},"axis":null},"text":{"value":"Total . . . . . . . . . . . . . . . . . . . . . . ."}}},
{"mark":{"type":"text","fontSize":15.5,"font":"DejaVu Serif","align":"right"},"encoding":{"x":{"datum":0.493,"scale":{"domain":[-7.796,7.418],"nice":false,"zero":false},"axis":null},"y":{"datum":1,"scale":{"domain":[-3.25,12.8],"nice":false,"zero":false,"reverse":true},"axis":null},"text":{"value":"1938 = 100"}}},
{"mark":{"type":"text","fontSize":15.5,"font":"DejaVu Serif","align":"left"},"encoding":{"x":{"datum":-5.609,"scale":{"domain":[-7.796,7.418],"nice":false,"zero":false},"axis":null},"y":{"datum":2,"scale":{"domain":[-3.25,12.8],"nice":false,"zero":false,"reverse":true},"axis":null},"text":{"value":"Industrivarer . . . . . . . . . . . . . . ."}}},
{"mark":{"type":"text","fontSize":15.5,"font":"DejaVu Serif"},"encoding":{"x":{"datum":-0.379,"scale":{"domain":[-7.796,7.418],"nice":false,"zero":false},"axis":null},"y":{"datum":2,"scale":{"domain":[-3.25,12.8],"nice":false,"zero":false,"reverse":true},"axis":null},"text":{"value":"—»—"}}},
{"mark":{"type":"text","fontSize":15.5,"font":"DejaVu Serif","align":"left"},"encoding":{"x":{"datum":-5.609,"scale":{"domain":[-7.796,7.418],"nice":false,"zero":false},"axis":null},"y":{"datum":3,"scale":{"domain":[-3.25,12.8],"nice":false,"zero":false,"reverse":true},"axis":null},"text":{"value":"Jordbruksvarer . . . . . . . . . . . . . ."}}},
{"mark":{"type":"text","fontSize":15.5,"font":"DejaVu Serif"},"encoding":{"x":{"datum":-0.379,"scale":{"domain":[-7.796,7.418],"nice":false,"zero":false},"axis":null},"y":{"datum":3,"scale":{"domain":[-3.25,12.8],"nice":false,"zero":false,"reverse":true},"axis":null},"text":{"value":"—»—"}}}
]
}
]
}
